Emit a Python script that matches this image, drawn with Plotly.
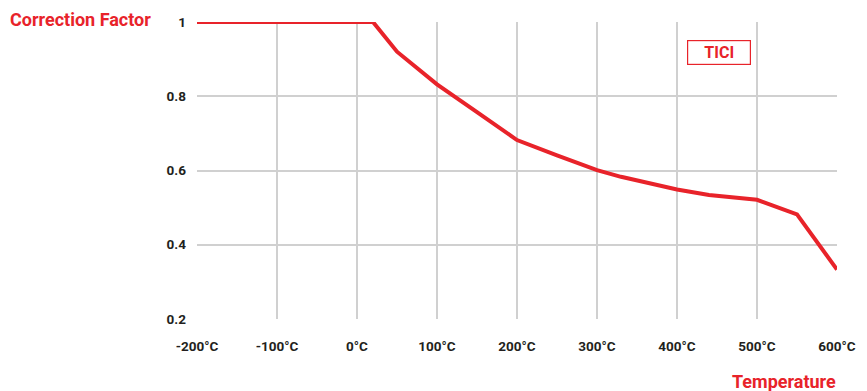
"""
Correction factor vs. temperature (TICI).
"""
import plotly.graph_objects as go

TEMPS = [-200, 20, 50, 100, 150, 200, 250, 300, 330, 400, 440, 500, 550, 600]
FACTOR = [1.0, 1.0, 0.92, 0.832, 0.757, 0.682, 0.641, 0.601, 0.583, 0.549, 0.534, 0.521, 0.482, 0.333]

X_TICKS = [-200, -100, 0, 100, 200, 300, 400, 500, 600]
X_LABELS = ['-200°C', '-100°C', '0°C', '100°C', '200°C', '300°C', '400°C', '500°C', '600°C']
Y_TICKS = [0.2, 0.4, 0.6, 0.8, 1.0]
Y_LABELS = ['0.2', '0.4', '0.6', '0.8', '1']

RED = '#e8232a'
FONT = 'Roboto, Liberation Sans, sans-serif'

fig = go.Figure()
fig.add_trace(go.Scatter(
    x=TEMPS, y=FACTOR,
    mode='lines',
    line=dict(color=RED, width=4),
    cliponaxis=False,
    showlegend=False,
))

fig.update_layout(
    width=867, height=391,
    margin=dict(l=197, r=30, t=22, b=72),
    plot_bgcolor='white',
    paper_bgcolor='white',
    font=dict(family=FONT, color='#231f20', size=14, weight='bold'),
    annotations=[
        dict(text='Correction Factor', xref='paper', yref='paper',
             x=-0.068, y=1.008, xanchor='right', yanchor='middle',
             showarrow=False, font=dict(color=RED, size=18, family=FONT, weight='bold')),
        dict(text='Temperature', xref='paper', yref='paper',
             x=1.002, y=-0.21, xanchor='right', yanchor='middle',
             showarrow=False, font=dict(color=RED, size=18, family=FONT, weight='bold')),
        dict(text='TICI', xref='paper', yref='paper',
             x=0.816, y=0.897, xanchor='center', yanchor='middle',
             showarrow=False, font=dict(color=RED, size=16, family=FONT, weight='bold'),
             bordercolor=RED, borderwidth=1.2, borderpad=2, width=58,
             bgcolor='white'),
    ],
)
fig.update_xaxes(
    range=[-200, 600], tickvals=X_TICKS, ticktext=X_LABELS,
    showgrid=True, gridcolor='#d0d0d0', gridwidth=1.5,
    zeroline=False, showline=False,
    tickfont=dict(size=13.5, weight='bold'), ticklabelstandoff=17,
)
fig.update_yaxes(
    range=[0.2, 1.0], tickvals=Y_TICKS, ticktext=Y_LABELS,
    showgrid=True, gridcolor='#d0d0d0', gridwidth=1.5,
    zeroline=False, showline=False,
    tickfont=dict(size=13.5, weight='bold'), ticklabelstandoff=10,
)

# the page body has a default 8px margin; drop it so the figure fills the window
fig.write_html('out.html', config={'displayModeBar': False},
               post_script="document.body.style.margin='0';")
